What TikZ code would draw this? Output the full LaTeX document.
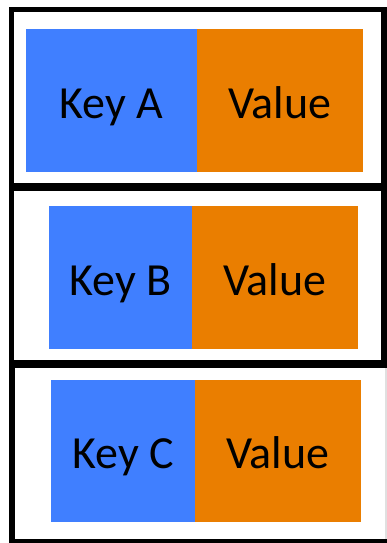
\documentclass[tikz,border=0pt]{standalone}
\usepackage{fontspec}
\setmainfont{Carlito}
\definecolor{keyblue}{RGB}{64,127,255}
\definecolor{valorange}{RGB}{234,126,0}
\begin{document}
\begin{tikzpicture}[x=1pt,y=-1pt,
  frame/.style={draw=black,line width=5.5pt},
  cell/.style={anchor=north west,inner sep=0pt,outer sep=0pt,
    font=\fontsize{46}{50}\selectfont,text height=35pt,text depth=0pt,align=center},
  keycell/.style={cell,fill=keyblue},
  valcell/.style={cell,fill=valorange}]
\useasboundingbox (0,0) rectangle (387,543);
\fill[white] (0,0) rectangle (387,543);

% entry A
\draw[frame] (11.5,9.5) rectangle (384,185.5);
\node[keycell,minimum width=171pt,minimum height=143pt] (ka) at (26,29) {Key A};
\node[valcell,minimum width=166pt,minimum height=143pt] (va) at (197,29) {Value};

% entry B
\draw[frame] (11.5,188) rectangle (384,363);
\node[keycell,minimum width=143pt,minimum height=143pt] (kb) at (49,206) {Key B};
\node[valcell,minimum width=166pt,minimum height=143pt] (vb) at (192,206) {Value};

% entry C (its right edge runs past the page)
\fill[black!12] (385,368) rectangle (387,543);
\draw[frame] (12,365.5) rectangle (392,542);
\node[keycell,minimum width=144pt,minimum height=142pt] (kc) at (51,380) {Key C};
\node[valcell,minimum width=166pt,minimum height=142pt] (vc) at (195,380) {Value};
\end{tikzpicture}
\end{document}
